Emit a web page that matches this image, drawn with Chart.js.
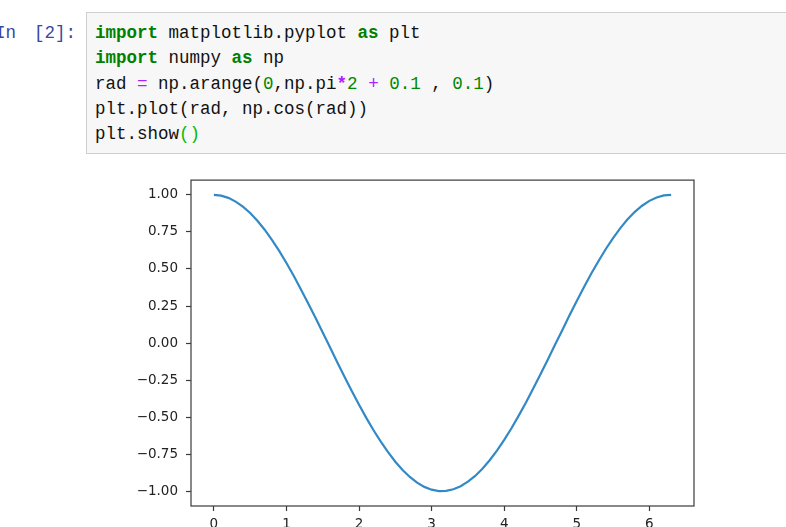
<!DOCTYPE html>
<html><head><meta charset="utf-8">
<script src="https://cdn.jsdelivr.net/npm/chart.js@4.4.0/dist/chart.umd.min.js"></script>
<style>
html,body{margin:0;padding:0;width:786px;height:527px;overflow:hidden;background:#fff;position:relative;}
.mono{font-family:"Liberation Mono","Courier New",Cousine,"DejaVu Sans Mono",monospace;font-size:17.5px;}
.prompt{position:absolute;top:21px;margin:0;color:#3848a0;white-space:pre;line-height:25.3px;}
.cell{position:absolute;left:86px;top:12px;width:760px;height:140px;background:#f7f7f7;border:1px solid #cfcfcf;}
.code{position:absolute;left:8px;top:8px;margin:0;line-height:25.3px;color:#111;white-space:pre;}
.kw{color:#008000;font-weight:bold}
.op{color:#aa22ff}
.opb{color:#aa22ff;font-weight:bold}
.nm{color:#008800}
.br{color:#00bb00}
#wrap{position:absolute;left:100px;top:164px;width:620px;height:380px;}
</style></head>
<body>
<pre class="prompt mono" style="left:-5px">In</pre>
<pre class="prompt mono" style="left:34px">[2]:</pre>
<div class="cell"><pre class="code mono"><span class="kw">import</span> matplotlib.pyplot <span class="kw">as</span> plt
<span class="kw">import</span> numpy <span class="kw">as</span> np
rad <span class="op">=</span> np.arange(<span class="nm">0</span>,np.pi<span class="opb">*</span><span class="nm">2</span> <span class="op">+</span> <span class="nm">0.1</span> , <span class="nm">0.1</span>)
plt.plot(rad, np.cos(rad))
plt.show<span class="br">()</span></pre></div>
<div id="wrap"><canvas id="c"></canvas></div>
<script>
const radValues = [0,0.1,0.2,0.3,0.4,0.5,0.6,0.7,0.8,0.9,1.0,1.1,1.2,1.3,1.4,1.5,1.6,1.7,1.8,1.9,2.0,2.1,2.2,2.3,2.4,2.5,2.6,2.7,2.8,2.9,3.0,3.1,3.2,3.3,3.4,3.5,3.6,3.7,3.8,3.9,4.0,4.1,4.2,4.3,4.4,4.5,4.6,4.7,4.8,4.9,5.0,5.1,5.2,5.3,5.4,5.5,5.6,5.7,5.8,5.9,6.0,6.1,6.2,6.3];
const cosValues = [1.000,0.995,0.980,0.955,0.921,0.878,0.825,0.765,0.697,0.622,0.540,0.454,0.362,0.267,0.170,0.071,-0.029,-0.129,-0.227,-0.323,-0.416,-0.505,-0.589,-0.666,-0.737,-0.801,-0.857,-0.904,-0.942,-0.971,-0.990,-0.999,-0.998,-0.987,-0.967,-0.936,-0.897,-0.848,-0.791,-0.726,-0.654,-0.575,-0.490,-0.401,-0.307,-0.211,-0.112,-0.012,0.087,0.187,0.284,0.378,0.469,0.554,0.635,0.709,0.776,0.835,0.886,0.927,0.960,0.983,0.997,1.000];
const xTicks = [0,1,2,3,4,5,6];
const yTicks = [-1,-0.75,-0.5,-0.25,0,0.25,0.5,0.75,1];

const tickFont = {family:'"DejaVu Sans", sans-serif', size:13.5};
const frame = {
  id:'frame',
  afterDraw(chart){
    const a = chart.chartArea, ctx = chart.ctx;
    ctx.save();
    ctx.strokeStyle = '#3a3a3a';
    ctx.lineWidth = 1.2;
    ctx.strokeRect(a.left, a.top, a.right - a.left, a.bottom - a.top);
    ctx.restore();
  }
};
new Chart(document.getElementById('c'), {
  type:'scatter',
  data:{datasets:[{
    data: radValues.map((x,i)=>({x:x, y:cosValues[i]})),
    showLine:true, pointRadius:0, borderColor:'#3389c6', borderWidth:2.2, tension:0
  }]},
  options:{
    responsive:true, maintainAspectRatio:false, animation:false, devicePixelRatio:1,
    layout:{padding:{left:0, top:4, right:26, bottom:0}},
    plugins:{legend:{display:false}, tooltip:{enabled:false}},
    scales:{
      x:{
        type:'linear', min:-0.315, max:6.615,
        afterBuildTicks:s=>{s.ticks = xTicks.map(v=>({value:v}));},
        afterFit:s=>{s.height = 38;},
        ticks:{font:tickFont, color:'#222', padding:5, maxRotation:0, autoSkip:false, callback:v=>String(v)},
        grid:{display:true, drawOnChartArea:false, drawTicks:true, tickLength:5, tickColor:'#3a3a3a', tickWidth:1.2},
        border:{display:false}
      },
      y:{
        type:'linear', min:-1.1, max:1.1,
        afterBuildTicks:s=>{s.ticks = yTicks.map(v=>({value:v}));},
        afterFit:s=>{s.width = 91;},
        ticks:{font:tickFont, color:'#222', padding:8, autoSkip:false,
          callback:v=>(v<0?'\u2212':'') + Math.abs(v).toFixed(2)},
        grid:{display:true, drawOnChartArea:false, drawTicks:true, tickLength:5, tickColor:'#3a3a3a', tickWidth:1.2},
        border:{display:false}
      }
    }
  },
  plugins:[frame]
});
</script>
</body></html>
